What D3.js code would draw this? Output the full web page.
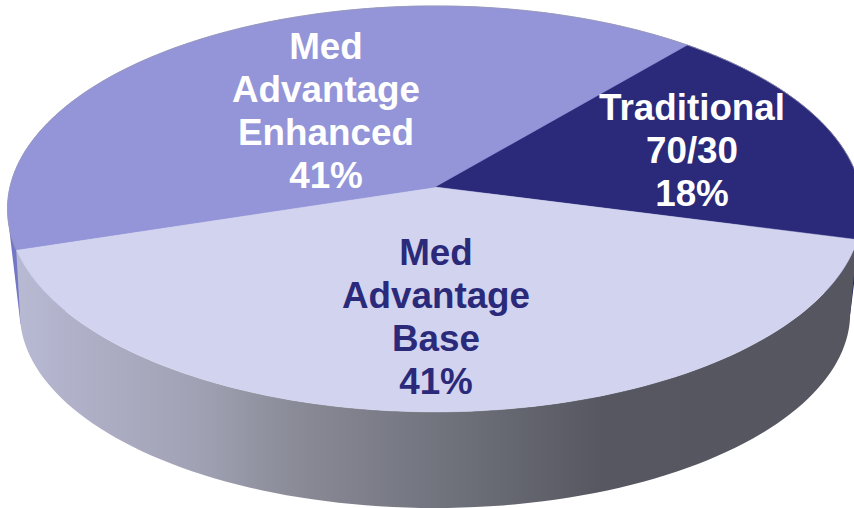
<!DOCTYPE html>
<meta charset="utf-8">
<style>
body { margin: 0; background: #fff; }
svg { display: block; }
text { font-family: "Liberation Sans", Arial, sans-serif; font-weight: bold; font-size: 36.8px; text-anchor: middle; }
</style>
<body>
<div id="chart"></div>
<script src="https://d3js.org/d3.v7.min.js"></script>
<script>
// values
var categories = ["Traditional 70/30", "Med Advantage Base", "Med Advantage Enhanced"];
var shares = [18, 41, 41];
var labelLines = [
    ["Traditional", "70/30", "18%"],
    ["Med", "Advantage", "Base", "41%"],
    ["Med", "Advantage", "Enhanced", "41%"]
];

var width = 854, height = 508;
var topColors = ["#2b2a7a", "#d2d3ef", "#9395d8"];
var sideColors = ["#1e1f5c", "url(#sideShade)", "#7477c6"];
var textColors = ["#fff", "#2b2a7a", "#fff"];
var labelX = [692, 436, 326];
var labelY = [120, 265, 59];
var lineStep = 43;

var svg = d3.select("#chart").append("svg")
    .attr("width", width)
    .attr("height", height);

// side of the base slice, light on the left, dark on the right
var grad = svg.append("defs").append("linearGradient")
    .attr("id", "sideShade")
    .attr("gradientUnits", "userSpaceOnUse")
    .attr("x1", 15).attr("x2", 853).attr("y1", 0).attr("y2", 0);
grad.selectAll("stop")
    .data([[0, "#b8b9d3"], [0.22, "#a0a1b3"], [0.34, "#898a96"], [0.52, "#6f717b"], [0.7, "#565761"], [1, "#55565f"]])
    .enter().append("stop")
    .attr("offset", function(d) { return d[0]; })
    .attr("stop-color", function(d) { return d[1]; });

// the pie, tilted: unit circle seen in perspective, so the apex sits above the middle
var pie = d3.pie().sort(null).startAngle(40 * Math.PI / 180).endAngle(400 * Math.PI / 180);
var slices = pie(shares);

var topRim = {cx: 435, cy: 187, rx: 425, ry: 200.6, persp: 0.108};
var bottomRim = {cx: 435, cy: 264.3, rx: 402, ry: 182.8, persp: 0.25};

function project(a, e) {
    var u = Math.sin(a), v = -Math.cos(a), w = 1 - e.persp * v;
    return [e.cx + e.rx * u / w, e.cy + e.ry * v / w];
}
function rim(d, e) {
    return d3.range(0, 1.0001, 0.01).map(function(t) {
        return project(d.startAngle + (d.endAngle - d.startAngle) * t, e);
    });
}
var line = d3.line();

// back slices only show as slivers past the front one, so they get the hull and go first
svg.selectAll("path.back")
    .data(slices.filter(function(d) { return d.index != 1; }))
    .enter().append("path")
    .attr("class", "back")
    .attr("d", function(d) { return line(d3.polygonHull(rim(d, topRim).concat(rim(d, bottomRim)))) + "Z"; })
    .style("fill", function(d) { return sideColors[d.index]; });

svg.selectAll("path.side")
    .data(slices.filter(function(d) { return d.index == 1; }))
    .enter().append("path")
    .attr("class", "side")
    .attr("d", function(d) { return line(rim(d, topRim).concat(rim(d, bottomRim).reverse())) + "Z"; })
    .style("fill", function(d) { return sideColors[d.index]; });

svg.selectAll("path.face")
    .data(slices)
    .enter().append("path")
    .attr("class", "face")
    .attr("d", function(d) { return line([[topRim.cx, topRim.cy]].concat(rim(d, topRim))) + "Z"; })
    .style("fill", function(d) { return topColors[d.index]; })
    .style("stroke", function(d) { return topColors[d.index]; })
    .style("stroke-width", 0.5);

// faint grey edge along the far rim
svg.selectAll("path.edge")
    .data(slices.filter(function(d) { return d.index != 1; }))
    .enter().append("path")
    .attr("class", "edge")
    .attr("d", function(d) { return line(rim(d, topRim)); })
    .style("fill", "none")
    .style("stroke", "#9a9ab8")
    .style("stroke-width", 0.8);

// labels
categories.forEach(function(c, i) {
    svg.selectAll("text.l" + i)
        .data(labelLines[i])
        .enter().append("text")
        .attr("class", "l" + i)
        .attr("x", labelX[i])
        .attr("y", function(d, j) { return labelY[i] + j * lineStep; })
        .style("fill", textColors[i])
        .text(function(d) { return d; });
});
</script>
</body>
